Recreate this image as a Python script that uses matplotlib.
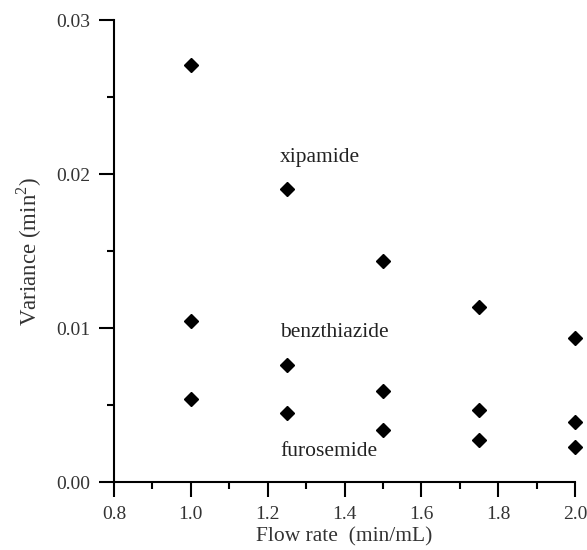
import matplotlib
matplotlib.use('Agg')
import matplotlib.pyplot as plt
from matplotlib.ticker import MultipleLocator

plt.rcParams['font.family'] = ['Liberation Serif', 'DejaVu Serif']
plt.rcParams['mathtext.fontset'] = 'custom'
plt.rcParams['mathtext.rm'] = 'Liberation Serif'

flow = [1.0, 1.25, 1.5, 1.75, 2.0]
xipamide = [0.0271, 0.0190, 0.01435, 0.01135, 0.00935]
benzthiazide = [0.01045, 0.0076, 0.0059, 0.0047, 0.0039]
furosemide = [0.0054, 0.0045, 0.0034, 0.0027, 0.0023]

fig = plt.figure(figsize=(5.87, 5.5), dpi=100)
ax = fig.add_axes([0.1942, 0.1236, 0.7854, 0.84])

for s in [xipamide, benzthiazide, furosemide]:
    ax.plot(flow, s, 'D', color='black', markersize=7, markeredgecolor='black',
            clip_on=False)

ax.text(1.232, 0.0211, 'xipamide', fontsize=15.5, va='center', color='#222222')
ax.text(1.232, 0.0097, 'benzthiazide', fontsize=15.5, va='center', color='#222222')
ax.text(1.232, 0.0020, 'furosemide', fontsize=15.5, va='center', color='#222222')

ax.set_xlim(0.8, 2.0)
ax.set_ylim(0.0, 0.03)
ax.xaxis.set_minor_locator(MultipleLocator(0.1))
ax.yaxis.set_minor_locator(MultipleLocator(0.005))
ax.set_xticks([0.8, 1.0, 1.2, 1.4, 1.6, 1.8, 2.0])
ax.set_xticklabels(['0.8', '1.0', '1.2', '1.4', '1.6', '1.8', '2.0'])
ax.set_yticks([0.0, 0.01, 0.02, 0.03])
ax.set_yticklabels(['0.00', '0.01', '0.02', '0.03'])

for side in ['top', 'right']:
    ax.spines[side].set_visible(False)
for side in ['left', 'bottom']:
    ax.spines[side].set_linewidth(1.5)

ax.tick_params(which='major', direction='out', length=11, width=1.5,
               labelsize=14, colors='black', labelcolor='#333333')
ax.tick_params(axis='x', which='major', pad=6)
ax.tick_params(axis='y', which='major', pad=6)
ax.tick_params(which='minor', direction='out', length=5, width=1.5)

ax.set_xlabel('Flow rate  (min/mL)', fontsize=15.5, color='#333333', labelpad=3)
ax.set_ylabel('Variance (min$^2$)', fontsize=16.5, color='#333333', labelpad=9)

fig.savefig('out.png', dpi=100)
